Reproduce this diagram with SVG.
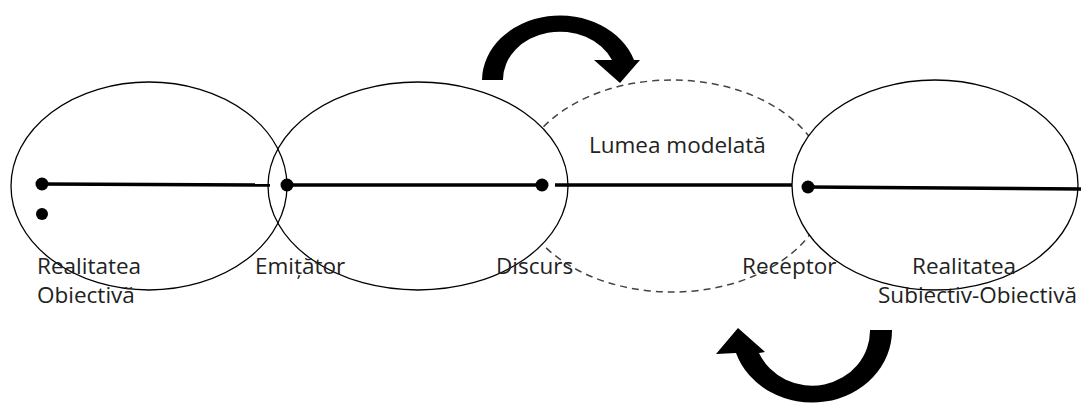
<svg xmlns="http://www.w3.org/2000/svg" width="1081" height="405" viewBox="0 0 1081 405">
<style>
.ell{fill:none;stroke:#000;stroke-width:1.3}
.ellw{fill:#fff;stroke:#000;stroke-width:1.3}
.dash{fill:none;stroke:#444;stroke-width:1.5;stroke-dasharray:7 5}
.ln{stroke:#000;stroke-width:3.5;fill:none}
.dot{fill:#000}
.lbl{font-family:"Open Sans","Noto Sans",sans-serif;font-size:22.5px;fill:#222}
.arr{fill:#000}
</style>
<rect width="1081" height="405" fill="#fff"/>
<g id="lumea-modelata">
<ellipse class="dash" cx="672" cy="186" rx="155" ry="106"/>
</g>
<g id="emitator">
<ellipse class="ellw" cx="418" cy="186" rx="150" ry="104"/>
</g>
<g id="realitatea-subiectiv-obiectiva">
<ellipse class="ellw" cx="935" cy="185" rx="143" ry="105"/>
</g>
<g id="realitatea-obiectiva">
<ellipse class="ell" cx="149" cy="186" rx="138" ry="104"/>
</g>
<g id="labels">
<text class="lbl" x="37" y="274">Realitatea</text>
<text class="lbl" x="37" y="303">Obiectivă</text>
<text class="lbl" x="255" y="274">Emițător</text>
<text class="lbl" x="589" y="153">Lumea modelată</text>
<text class="lbl" x="912" y="274">Realitatea</text>
<text class="lbl" x="878" y="303">Subiectiv-Obiectivă</text>
<text class="lbl" x="496" y="274">Discurs</text>
<text class="lbl" x="742" y="274">Receptor</text>
</g>
<g id="connectors">
<line class="ln" x1="42" y1="184" x2="270" y2="185"/>
<circle class="dot" cx="42" cy="184" r="6.5"/>
<circle class="dot" cx="42" cy="214" r="6"/>
<line class="ln" x1="287" y1="185" x2="542" y2="185"/>
<circle class="dot" cx="287" cy="185" r="6.5"/>
<circle class="dot" cx="542" cy="185" r="6.5"/>
<line class="ln" x1="555" y1="185" x2="792" y2="185"/>
<line class="ln" x1="808" y1="187" x2="1081" y2="189"/>
<circle class="dot" cx="808" cy="187" r="6.5"/>
<path class="arr" d="M482,80 A78,65 0 0 1 634,60 L640,60 L620,83 L594,60 L612,60 A57,48 0 0 0 503,80 Z"/>
<path class="arr" d="M892,330 A80,72 0 0 1 736,353 L716,354 L738,328 L765,352 L759,353 A58,55 0 0 0 870,330 Z"/>
</g>
</svg>
